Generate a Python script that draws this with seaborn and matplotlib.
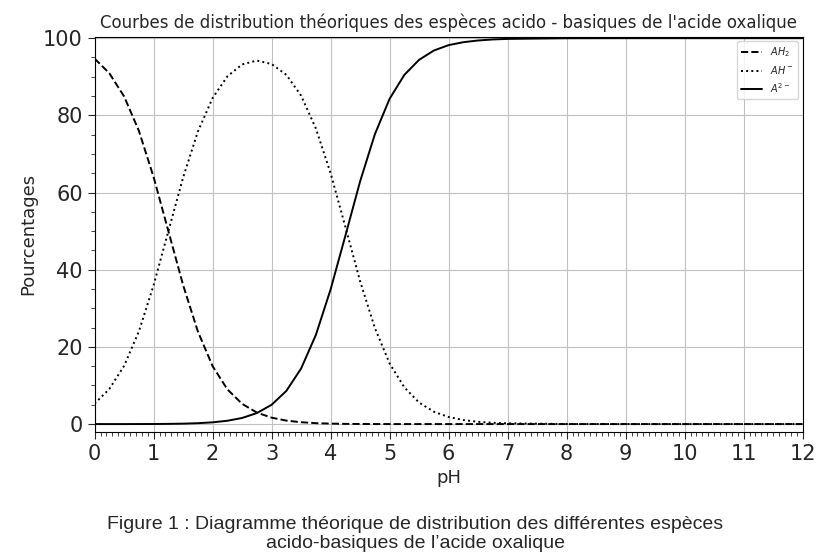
import matplotlib
matplotlib.use("Agg")
import matplotlib.pyplot as plt
import seaborn as sns
import pandas as pd
from matplotlib.ticker import MultipleLocator

ph = [0,0.25,0.5,0.75,1.0,1.25,1.5,1.75,2.0,2.25,2.5,2.75,3.0,3.25,3.5,3.75,4.0,4.25,4.5,4.75,5.0,5.25,5.5,5.75,6.0,6.25,6.5,6.75,7.0,8,9,10,11,12]
ah2 = [94.7,90.9,84.9,76.0,64.0,50.0,36.0,24.0,15.0,9.0,5.24,2.98,1.66,0.9,0.48,0.24,0.12,0.05,0.02,0.01,0,0,0,0,0,0,0,0,0,0,0,0,0,0]
ah = [5.3,9.1,15.1,24.0,36.0,50.0,63.9,75.8,84.5,90.1,93.2,94.2,93.3,90.5,85.1,76.6,65.0,51.1,37.0,24.9,15.7,9.5,5.56,3.2,1.83,1.04,0.59,0.33,0.19,0.02,0,0,0,0]
a2 = [0,0,0,0.01,0.02,0.05,0.11,0.23,0.45,0.86,1.58,2.85,5.0,8.6,14.4,23.1,34.9,48.8,62.9,75.1,84.3,90.5,94.4,96.8,98.2,98.96,99.4,99.67,99.81,99.98,100,100,100,100]

df = pd.DataFrame({"pH": ph, "AH2": ah2, "AH": ah, "A2": a2})

sns.set_style("white")
fig = plt.figure(figsize=(8.3, 5.55), dpi=100)
ax = fig.add_axes([0.114, 0.222, 0.853, 0.712])
sns.lineplot(data=df, x="pH", y="AH2", ax=ax, color="black", ls="--", lw=1.4, label=r"$AH_2$")
sns.lineplot(data=df, x="pH", y="AH", ax=ax, color="black", ls=":", lw=1.4, label=r"$AH^-$")
sns.lineplot(data=df, x="pH", y="A2", ax=ax, color="black", ls="-", lw=1.4, label=r"$A^{2-}$")
ax.set_xlim(0, 12)
ax.set_ylim(-2, 100.4)
ax.xaxis.set_major_locator(MultipleLocator(1))
ax.xaxis.set_minor_locator(MultipleLocator(0.1))
ax.yaxis.set_major_locator(MultipleLocator(20))
ax.yaxis.set_minor_locator(MultipleLocator(5))
ax.tick_params(which="major", direction="out", length=5, labelsize=15, left=True, bottom=True)
ax.tick_params(which="minor", direction="out", length=3, left=True, bottom=True)
ax.grid(True, which="major", color="#c0c0c0", lw=0.8)
for s in ax.spines.values():
    s.set_color("black")
ax.set_xlabel("pH", fontsize=13)
ax.set_ylabel("Pourcentages", fontsize=13)
ax.set_title("Courbes de distribution théoriques des espèces acido - basiques de l'acide oxalique", fontsize=12)
ax.legend(loc="upper right", fontsize=7, frameon=True, handlelength=2.2)
fig.text(0.5, 0.038, "Figure 1 : Diagramme théorique de distribution des différentes espèces\nacido-basiques de l’acide oxalique",
         ha="center", va="center", fontsize=14, family="Liberation Sans", linespacing=1.1)
fig.savefig("out.png", dpi=100)
